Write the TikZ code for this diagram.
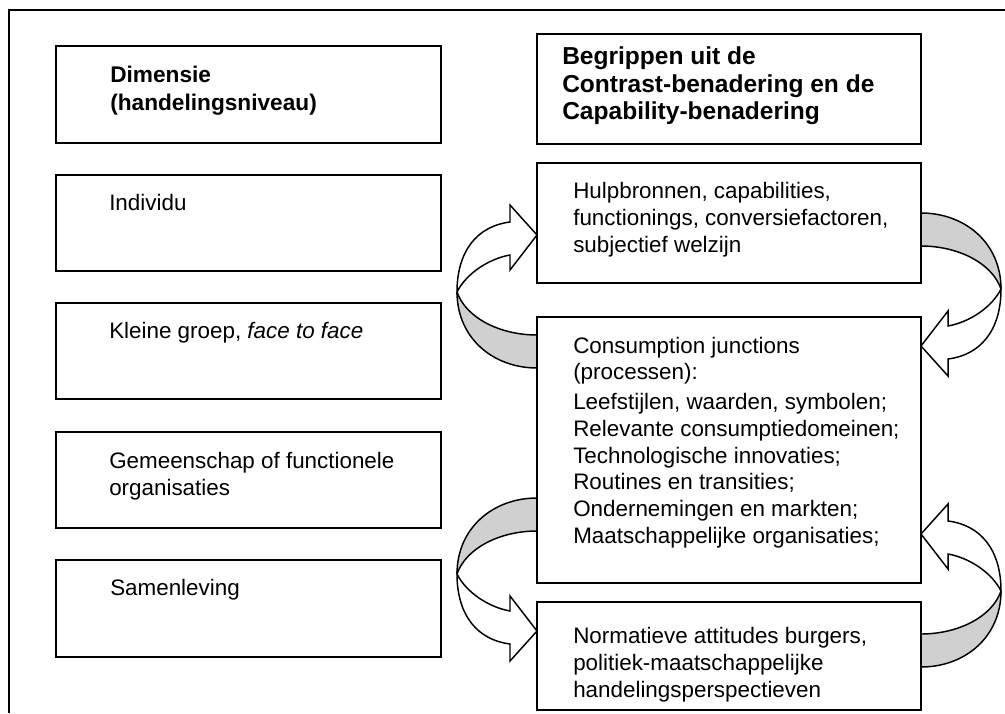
\documentclass[tikz,border=0pt]{standalone}
\usepackage{fontspec}
\setmainfont{Liberation Sans}
\usetikzlibrary{fit}
\definecolor{bandgray}{RGB}{208,208,208}
\newcommand{\bendarrowshape}{%
  \filldraw[back] (537,335) .. controls (500,335) and (466,318) .. (457,292)
     .. controls (457,338) and (493,368) .. (537,368) -- cycle;
  \filldraw[front] (457,292) .. controls (457,250) and (478,226) .. (510,222)
     -- (510,205) -- (537,235) -- (510,270) -- (510,255)
     .. controls (488,259) and (466,274) .. (457,292) -- cycle;}
\begin{document}
\begin{tikzpicture}[x=0.75pt,y=-0.75pt,
  box/.style={draw, line width=1.5pt, inner sep=0pt},
  txt/.style={anchor=base west, inner sep=0pt, font=\fontsize{16.8pt}{20.6pt}\selectfont},
  back/.style={line width=1.1pt, line join=round, fill=bandgray},
  front/.style={line width=1.1pt, line join=miter, fill=white}]
\useasboundingbox (0,0) rectangle (1005,713);
% outer frame (only top and left edges visible)
\draw[line width=1.5pt] (9,713) -- (9,10) -- (1005,10);

% curved arrows
\begin{scope}\bendarrowshape\end{scope}
\begin{scope}[shift={(1458,581)}, xscale=-1, yscale=-1]\bendarrowshape\end{scope}
\begin{scope}[shift={(0,866)}, yscale=-1]\bendarrowshape\end{scope}
\begin{scope}[shift={(1458,299)}, xscale=-1]\bendarrowshape\end{scope}

% left column boxes
\node[box, fit={(56,46) (441,143)}] (dim) {};
\node[box, fit={(56,175) (441,271)}] (ind) {};
\node[box, fit={(56,303) (441,399)}] (klein) {};
\node[box, fit={(56,432) (441,528)}] (gem) {};
\node[box, fit={(56,560) (441,657)}] (samen) {};
% right column boxes
\node[box, fit={(537,34) (921,144)}] (begr) {};
\node[box, fit={(537,163) (921,283)}] (hulp) {};
\node[box, fit={(537,317) (921,583)}] (cons) {};
\node[box, fit={(537,602) (921,710)}] (norm) {};

% texts
\node[txt, font=\fontsize{17pt}{21pt}\selectfont\bfseries] (tdim) at (110,83)
  {\parbox[t]{320pt}{\raggedright Dimensie\\(handelingsniveau)}};
\node[txt] (tind) at (109,210) {Individu};
\node[txt] (tklein) at (109,338) {Kleine groep, \textit{face to face}};
\node[txt] (tgem) at (109,468)
  {\parbox[t]{320pt}{\raggedright Gemeenschap of functionele\\organisaties}};
\node[txt] (tsamen) at (110,595) {Samenleving};

\node[txt, font=\fontsize{18.4pt}{20.6pt}\selectfont\bfseries] (tbegr) at (562,65)
  {\parbox[t]{320pt}{\raggedright Begrippen uit de\\Contrast-benadering en de\\Capability-benadering}};
\node[txt] (thulp) at (573,198)
  {\parbox[t]{320pt}{\raggedright Hulpbronnen, capabilities,\\functionings, conversiefactoren,\\subjectief welzijn}};
\node[txt, font=\fontsize{16.8pt}{20pt}\selectfont] (tcons) at (573,353)
  {\parbox[t]{320pt}{\raggedright Consumption junctions\\(processen):\\[2.5pt]
   Leefstijlen, waarden, symbolen;\\Relevante consumptiedomeinen;\\Technologische innovaties;\\
   Routines en transities;\\Ondernemingen en markten;\\Maatschappelijke organisaties;}};
\node[txt] (tnorm) at (573,643)
  {\parbox[t]{320pt}{\raggedright Normatieve attitudes burgers,\\politiek-maatschappelijke\\handelingsperspectieven}};
\end{tikzpicture}
\end{document}
